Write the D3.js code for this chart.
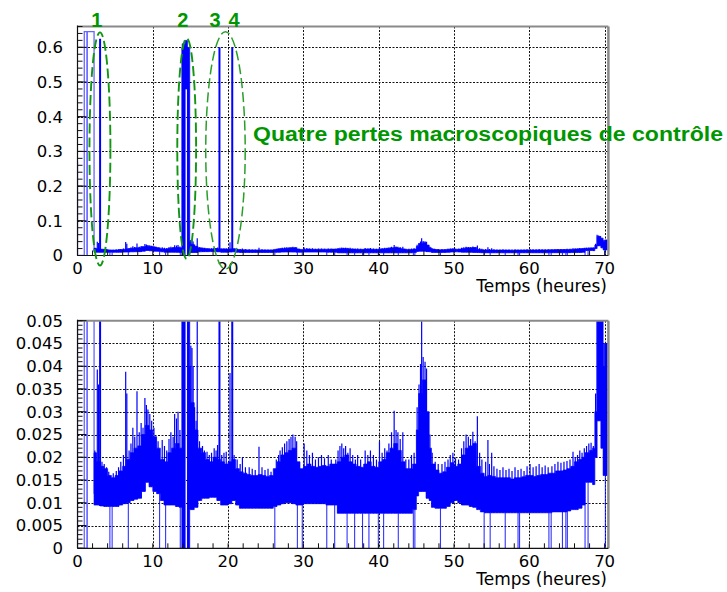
<!DOCTYPE html>
<html><head><meta charset="utf-8">
<script src="https://cdn.jsdelivr.net/npm/d3@7"></script>
<style>body{margin:0;background:#fff}svg{display:block}</style>
</head><body><svg id="c" width="727" height="592"></svg>
<script>
// ---------- DATA ----------
const xTickValues = [0,10,20,30,40,50,60,70];
const xTickLabels = ["0","10","20","30","40","50","60","70"];
const topYTicks = [0,0.1,0.2,0.3,0.4,0.5,0.6];
const topYLabels = ["0","0.1","0.2","0.3","0.4","0.5","0.6"];
const botYTicks = [0,0.005,0.01,0.015,0.02,0.025,0.03,0.035,0.04,0.045,0.05];
const botYLabels = ["0","0.005","0.01","0.015","0.02","0.025","0.03","0.035","0.04","0.045","0.05"];

// start of the run: [hours, value]
const startTrace = [[0,0.27],[0,0],[0.9,0],[0.9,0.645],[1.25,0.645],[1.25,0],[1.3,0],[1.3,0.645],[2.2,0.645],[2.2,0.012]];

// dense signal envelope: [hours (bin start), low, high]
const band = [
[2.2,0.0095,0.021],[2.5,0.0095,0.019],[3.0,0.0093,0.018],[3.5,0.0092,0.0175],
[4.0,0.0092,0.016],[4.5,0.0092,0.0155],[5.0,0.0092,0.016],[5.5,0.0095,0.017],
[6.0,0.0098,0.018],[6.5,0.0100,0.0195],[7.0,0.0105,0.021],[7.5,0.0108,0.022],
[8.0,0.0110,0.0225],[8.5,0.0125,0.025],[9.0,0.0145,0.027],[9.5,0.0135,0.026],
[10.0,0.0125,0.0245],[10.5,0.0120,0.022],[11.0,0.0105,0.0195],[11.5,0.0095,0.019],
[12.0,0.0095,0.021],[12.5,0.0095,0.022],[13.0,0.0092,0.023],[13.5,0.0090,0.022],
[13.9,0.0,0.61],[14.3,0.48,0.62],[14.6,0.0,0.6],[14.9,0.0085,0.04],
[15.0,0.0085,0.032],[15.5,0.0090,0.026],[16.0,0.0105,0.022],[16.5,0.0110,0.021],
[17.0,0.0110,0.0195],[17.5,0.0112,0.019],[18.0,0.0112,0.020],[18.5,0.0105,0.0195],
[19.0,0.0095,0.019],[19.5,0.0095,0.0185],[20.0,0.0098,0.019],[20.5,0.0105,0.0195],
[21.0,0.0095,0.0175],[21.5,0.0088,0.0168],[22.0,0.0088,0.0165],[22.5,0.0088,0.0162],
[23.0,0.0088,0.016],[23.5,0.0088,0.016],[24.0,0.0088,0.0162],[24.5,0.0088,0.016],
[25.0,0.0088,0.0158],[25.5,0.0088,0.016],[26.0,0.0092,0.0175],[26.5,0.0095,0.019],
[27.0,0.0098,0.0205],[27.5,0.0100,0.021],[28.0,0.0100,0.0215],[28.5,0.0098,0.022],
[29.0,0.0095,0.019],[29.5,0.0095,0.0175],[30.0,0.0098,0.018],[30.5,0.0098,0.0185],
[31.0,0.0098,0.018],[31.5,0.0098,0.0178],[32.0,0.0098,0.018],[32.5,0.0098,0.0182],
[33.0,0.0095,0.018],[33.5,0.0095,0.0185],[34.0,0.0095,0.0185],[34.5,0.0077,0.019],
[35.0,0.0077,0.020],[35.5,0.0077,0.0205],[36.0,0.0077,0.019],[36.5,0.0077,0.0185],
[37.0,0.0077,0.018],[37.5,0.0077,0.0178],[38.0,0.0077,0.0185],[38.5,0.0077,0.019],
[39.0,0.0077,0.018],[39.5,0.0077,0.0178],[40.0,0.0077,0.019],[40.5,0.0077,0.0195],
[41.0,0.0077,0.021],[41.5,0.0077,0.022],[42.0,0.0077,0.023],[42.5,0.0077,0.0215],
[43.0,0.0077,0.019],[43.5,0.0077,0.0175],[44.0,0.0077,0.0175],[44.5,0.0085,0.0185],
[45.0,0.0115,0.026],[45.3,0.0125,0.034],[45.8,0.0125,0.037],[46.3,0.0110,0.030],
[46.7,0.0105,0.022],[47.0,0.0090,0.0185],[47.5,0.0088,0.0172],[48.0,0.0088,0.0165],
[48.5,0.0088,0.0168],[49.0,0.0092,0.0178],[49.5,0.0100,0.0188],[50.0,0.0105,0.018],
[50.5,0.0100,0.0185],[51.0,0.0095,0.0205],[51.5,0.0095,0.022],[52.0,0.0092,0.0225],
[52.5,0.0090,0.023],[53.0,0.0085,0.018],[53.5,0.0080,0.0165],[54.0,0.0078,0.0158],
[54.5,0.0078,0.016],[55.0,0.0078,0.0158],[55.5,0.0078,0.0155],[56.0,0.0078,0.0155],
[56.5,0.0078,0.0155],[57.0,0.0078,0.0155],[57.5,0.0078,0.0152],[58.0,0.0078,0.0155],
[58.5,0.0078,0.0155],[59.0,0.0078,0.0157],[59.5,0.0078,0.016],[60.0,0.0078,0.016],
[60.5,0.0078,0.0158],[61.0,0.0078,0.016],[61.5,0.0078,0.0162],[62.0,0.0078,0.0162],
[62.5,0.0078,0.0165],[63.0,0.0080,0.0165],[63.5,0.0080,0.017],[64.0,0.0080,0.017],
[64.5,0.0080,0.0172],[65.0,0.0082,0.0175],[65.5,0.0085,0.018],[66.0,0.0085,0.019],
[66.5,0.0088,0.0195],[67.0,0.0095,0.020],[67.4,0.0145,0.021],[68.0,0.0145,0.0215],
[68.4,0.0140,0.022],[68.7,0.0200,0.030],[69.0,0.0280,0.055],[69.5,0.0220,0.050],
[69.8,0.0160,0.040],[70.0,0.0160,0.045],[70.35,0.0160,0.045]
];

// isolated upward excursions: [hours, peak value]
const spikes = [
[2.3,0.0215],[2.45,0.021],[2.63,0.0393],[2.8,0.036],[3.0,0.625],[3.25,0.019],[3.55,0.0185],[3.85,0.0178],
[4.15,0.0168],[4.75,0.0165],[5.15,0.017],[5.45,0.0178],[5.75,0.019],[6.1,0.0205],[6.4,0.0388],[6.55,0.034],
[6.85,0.0215],[7.1,0.023],[7.35,0.0265],[7.6,0.0245],[7.9,0.0345],[8.2,0.0255],[8.45,0.0275],[8.7,0.0265],
[8.95,0.033],[9.15,0.0315],[9.35,0.0305],[9.6,0.0295],[9.85,0.028],[10.15,0.0265],[10.4,0.0245],[10.7,0.0235],
[11.25,0.0238],[11.55,0.0225],[11.85,0.0215],[12.15,0.024],[12.4,0.0255],[12.7,0.0245],[12.9,0.0295],[13.15,0.0285],
[13.35,0.03],[13.6,0.026],[13.95,0.60],[14.7,0.5],
[15.05,0.0445],[15.2,0.044],[15.35,0.04],[15.55,0.031],[15.75,0.028],[15.9,0.05],[16.2,0.0235],[16.6,0.0225],
[16.85,0.0215],[17.2,0.0212],[17.5,0.0205],[17.8,0.021],[18.15,0.022],[18.4,0.0215],[18.6,0.0227],[18.85,0.60],
[19.15,0.0205],[19.45,0.021],[19.75,0.0212],[20.25,0.0385],[20.55,0.60],[20.8,0.0205],[21.2,0.0195],[21.6,0.0185],
[21.9,0.02],[22.3,0.0178],[22.8,0.0178],[23.2,0.0175],[23.6,0.0172],[24.1,0.0223],[24.5,0.0178],[24.9,0.0172],
[25.3,0.0175],[25.7,0.0168],[26.4,0.0195],[26.7,0.0205],[26.9,0.0215],[27.2,0.0222],[27.5,0.023],[27.8,0.0235],
[28.1,0.024],[28.35,0.0245],[28.6,0.025],[28.9,0.0245],[29.1,0.0235],[29.5,0.019],[30.1,0.023],[30.45,0.0215],
[30.8,0.0205],[31.2,0.021],[31.6,0.0195],[32.0,0.02],[32.4,0.0205],[32.8,0.0198],[33.3,0.0205],[33.7,0.0195],
[34.3,0.0195],[34.6,0.0215],[34.85,0.0225],[35.1,0.023],[35.35,0.022],[35.6,0.0225],[35.9,0.021],[36.2,0.022],
[36.55,0.0205],[36.9,0.0195],[37.2,0.0205],[37.6,0.0195],[38.2,0.0215],[38.55,0.0205],[38.9,0.0215],[39.3,0.0205],
[39.7,0.0195],[40.1,0.0235],[40.45,0.021],[40.8,0.022],[41.1,0.0215],[41.35,0.023],[41.7,0.0255],[42.05,0.0302],
[42.3,0.026],[42.55,0.0255],[42.85,0.024],[43.2,0.0255],[43.6,0.0195],[44.0,0.0195],[44.35,0.0205],[44.7,0.021],
[45.1,0.031],[45.35,0.036],[45.55,0.0405],[45.7,0.05],[45.9,0.042],[46.15,0.041],[46.35,0.0395],[46.55,0.03],
[46.8,0.025],[47.1,0.021],[47.5,0.019],[47.9,0.0185],[48.4,0.0185],[48.8,0.019],[49.2,0.0195],[49.5,0.0205],
[49.85,0.021],[50.2,0.0198],[50.6,0.0195],[51.0,0.022],[51.3,0.0235],[51.6,0.025],[51.9,0.0245],[52.2,0.024],
[52.5,0.0256],[52.8,0.0235],[53.1,0.029],[53.4,0.021],[53.7,0.0195],[54.2,0.019],[54.5,0.0238],[54.7,0.0185],
[55.0,0.021],[55.3,0.018],[55.7,0.0175],[56.1,0.0172],[56.5,0.0178],[56.9,0.0172],[57.3,0.0175],[57.7,0.017],
[58.1,0.0178],[58.5,0.0172],[58.9,0.0175],[59.3,0.017],[59.7,0.018],[60.1,0.0185],[60.5,0.0178],[60.9,0.018],
[61.3,0.0185],[61.7,0.0178],[62.1,0.0182],[62.5,0.0178],[63.0,0.018],[63.4,0.0185],[63.8,0.019],[64.2,0.0188],
[64.6,0.019],[65.0,0.0192],[65.4,0.0195],[65.8,0.0212],[66.1,0.02],[66.4,0.0205],[66.7,0.0215],[67.0,0.021],
[67.3,0.022],[67.6,0.0225],[67.9,0.023],[68.2,0.0232],[68.5,0.0225],[68.8,0.034],[69.0,0.06],[69.2,0.058],
[69.4,0.056],[69.6,0.05],[69.9,0.045],[70.2,0.033]
];

// short dropouts to zero: hours
const drops = [4.3,4.6,6.75,10.9,11.7,13.65,26.2,29.2,29.85,33.1,34.15,35.8,36.8,37.85,38.7,39.95,40.65,
42.6,44.6,44.8,48.2,54.0,54.8,56.8,58.5,58.7,62.6,62.9,64.4,64.85,65.05,67.4,67.8,70.1];

// annotation: ellipses around the 4 losses [centre h, half-width h, centre value, half-height value]
const lossEllipses = [[2.98,1.39,0.307,0.336],[14.5,1.25,0.308,0.318],[19.65,2.62,0.303,0.342]];
const lossLabels = [["1",2.55],["2",14.0],["3",18.27],["4",20.8]];
const annotText = "Quatre pertes macroscopiques de contrôle";

// ---------- DRAWING ----------
const svg = d3.select("#c");
const blue = "#0000ff", green = "#009600";
const XL = 77.5, XR = 608.4;
const x = d3.scaleLinear().domain([0,70.5]).range([XL, XR]);
const yTop = d3.scaleLinear().domain([0,0.66]).range([255.5, 26.5]);
const yBot = d3.scaleLinear().domain([0,0.05]).range([548.3, 320.7]);
const defs = svg.append("defs");
const tickFont = "'DejaVu Sans', Verdana, sans-serif";
const snap = v => Math.round(v) + 0.5;

const bandBisect = d3.bisector(d => d[0]).right;
function loAt(t){ const i = Math.max(0, bandBisect(band, t) - 1); return band[i][1]; }

function panel(y, yTicks, yLabels, minorStep, nMinor, id){
  const g = svg.append("g");
  const [yb, yt] = y.range();
  // grid
  g.selectAll("line.gx").data(xTickValues.filter(d => d > 0)).join("line")
    .attr("x1", d => snap(x(d))).attr("x2", d => snap(x(d))).attr("y1", yt).attr("y2", yb)
    .attr("stroke", "#111").attr("stroke-width", 1).attr("stroke-dasharray", "2,1.5");
  g.selectAll("line.gy").data(yTicks.filter(d => d > 0 && y(d) > yt + 2)).join("line")
    .attr("x1", XL).attr("x2", XR).attr("y1", d => snap(y(d))).attr("y2", d => snap(y(d)))
    .attr("stroke", "#111").attr("stroke-width", 1).attr("stroke-dasharray", "2,1.5");

  defs.append("clipPath").attr("id", id).append("rect")
    .attr("x", XL).attr("y", yt).attr("width", XR - XL).attr("height", yb - yt);
  const d = g.append("g").attr("clip-path", `url(#${id})`);

  const area = d3.area().x(p => x(p[0])).y0(p => y(p[1])).y1(p => y(p[2])).curve(d3.curveStepAfter);
  d.append("path").datum(band).attr("d", area).attr("fill", blue).attr("stroke", blue).attr("stroke-width", 0.7);

  const line = d3.line().x(p => x(p[0])).y(p => y(p[1]));
  d.append("path").datum(startTrace).attr("d", line).attr("fill", "none")
    .attr("stroke", blue).attr("stroke-opacity", 0.6).attr("stroke-width", 1.3);

  d.selectAll("line.sp").data(spikes).join("line")
    .attr("x1", p => x(p[0])).attr("x2", p => x(p[0]))
    .attr("y1", p => y(loAt(p[0]))).attr("y2", p => y(p[1]))
    .attr("stroke", blue).attr("stroke-width", p => p[1] > 0.1 ? 2 : 1.2);

  d.selectAll("line.dr").data(drops).join("line")
    .attr("x1", t => x(t)).attr("x2", t => x(t))
    .attr("y1", y(0)).attr("y2", t => y(loAt(t)))
    .attr("stroke", blue).attr("stroke-width", 1.1).attr("stroke-opacity", 0.8);

  // frame
  g.append("line").attr("x1", XL).attr("x2", XR).attr("y1", yt).attr("y2", yt).attr("stroke", "#8a8a8a").attr("stroke-width", 2);
  g.append("line").attr("x1", XR).attr("x2", XR).attr("y1", yt).attr("y2", yb).attr("stroke", "#8a8a8a").attr("stroke-width", 2.5);
  g.append("line").attr("x1", XL).attr("x2", XL).attr("y1", yt - 1).attr("y2", yb).attr("stroke", "#111").attr("stroke-width", 1.2);
  g.append("line").attr("x1", XL).attr("x2", XR).attr("y1", yb).attr("y2", yb).attr("stroke", "#111").attr("stroke-width", 1.2);

  // y ticks
  const yMinor = d3.range(0, nMinor + 1).map(i => i * minorStep).filter(v => y(v) >= yt);
  g.selectAll("line.ym").data(yMinor).join("line")
    .attr("x1", XL).attr("x2", XL + 5).attr("y1", v => y(v)).attr("y2", v => y(v))
    .attr("stroke", "#111").attr("stroke-width", 1);
  g.selectAll("line.yM").data(yTicks).join("line")
    .attr("x1", XL).attr("x2", XL + 9).attr("y1", v => y(v)).attr("y2", v => y(v))
    .attr("stroke", "#111").attr("stroke-width", 1);
  // x ticks
  const xMinor = d3.range(0, 36).map(i => i * 2);
  g.selectAll("line.xm").data(xMinor).join("line")
    .attr("x1", t => x(t)).attr("x2", t => x(t)).attr("y1", yb).attr("y2", yb - 5)
    .attr("stroke", "#111").attr("stroke-width", 1);

  // labels
  g.selectAll("text.yl").data(yTicks).join("text")
    .attr("x", 63).attr("y", v => y(v)).attr("dy", "0.36em").attr("text-anchor", "end")
    .attr("font-family", tickFont).attr("font-size", 16.5).attr("fill", "#000")
    .text((v, i) => yLabels[i]);
  g.selectAll("text.xl").data(xTickValues).join("text")
    .attr("x", t => x(t)).attr("y", yb + 18.5).attr("text-anchor", "middle")
    .attr("font-family", tickFont).attr("font-size", 16.5).attr("fill", "#000")
    .text((t, i) => xTickLabels[i]);
  g.append("text").attr("x", 607).attr("y", yb + 36.5).attr("text-anchor", "end")
    .attr("font-family", tickFont).attr("font-size", 17).attr("fill", "#000")
    .text("Temps (heures)");
  return g;
}

panel(yTop, topYTicks, topYLabels, 0.02, 33, "clipTop");
panel(yBot, botYTicks, botYLabels, 0.001, 50, "clipBot");

// annotations on top panel
const ann = svg.append("g");
ann.selectAll("ellipse").data(lossEllipses).join("ellipse")
  .attr("cx", e => x(e[0])).attr("cy", e => yTop(e[2]))
  .attr("rx", e => x(e[1]) - x(0)).attr("ry", e => yTop(0) - yTop(e[3]))
  .attr("fill", "none").attr("stroke", (e, i) => i === 2 ? "#2a9e2a" : "#129612")
  .attr("stroke-width", (e, i) => i === 2 ? 1.5 : 1.9)
  .attr("stroke-dasharray", "10,4");
ann.selectAll("text.num").data(lossLabels).join("text")
  .attr("x", l => x(l[1])).attr("y", 27).attr("text-anchor", "middle")
  .attr("font-family", "'Liberation Sans', Arial, sans-serif").attr("font-weight", "bold")
  .attr("font-size", 20).attr("fill", green).text(l => l[0]);
ann.append("text").attr("x", x(23.3)).attr("y", yTop(0.33))
  .attr("font-family", "'Liberation Sans', Arial, sans-serif").attr("font-weight", "bold")
  .attr("font-size", 19.5).attr("fill", green)
  .attr("textLength", 470).attr("lengthAdjust", "spacingAndGlyphs")
  .text(annotText);
</script></body></html>
